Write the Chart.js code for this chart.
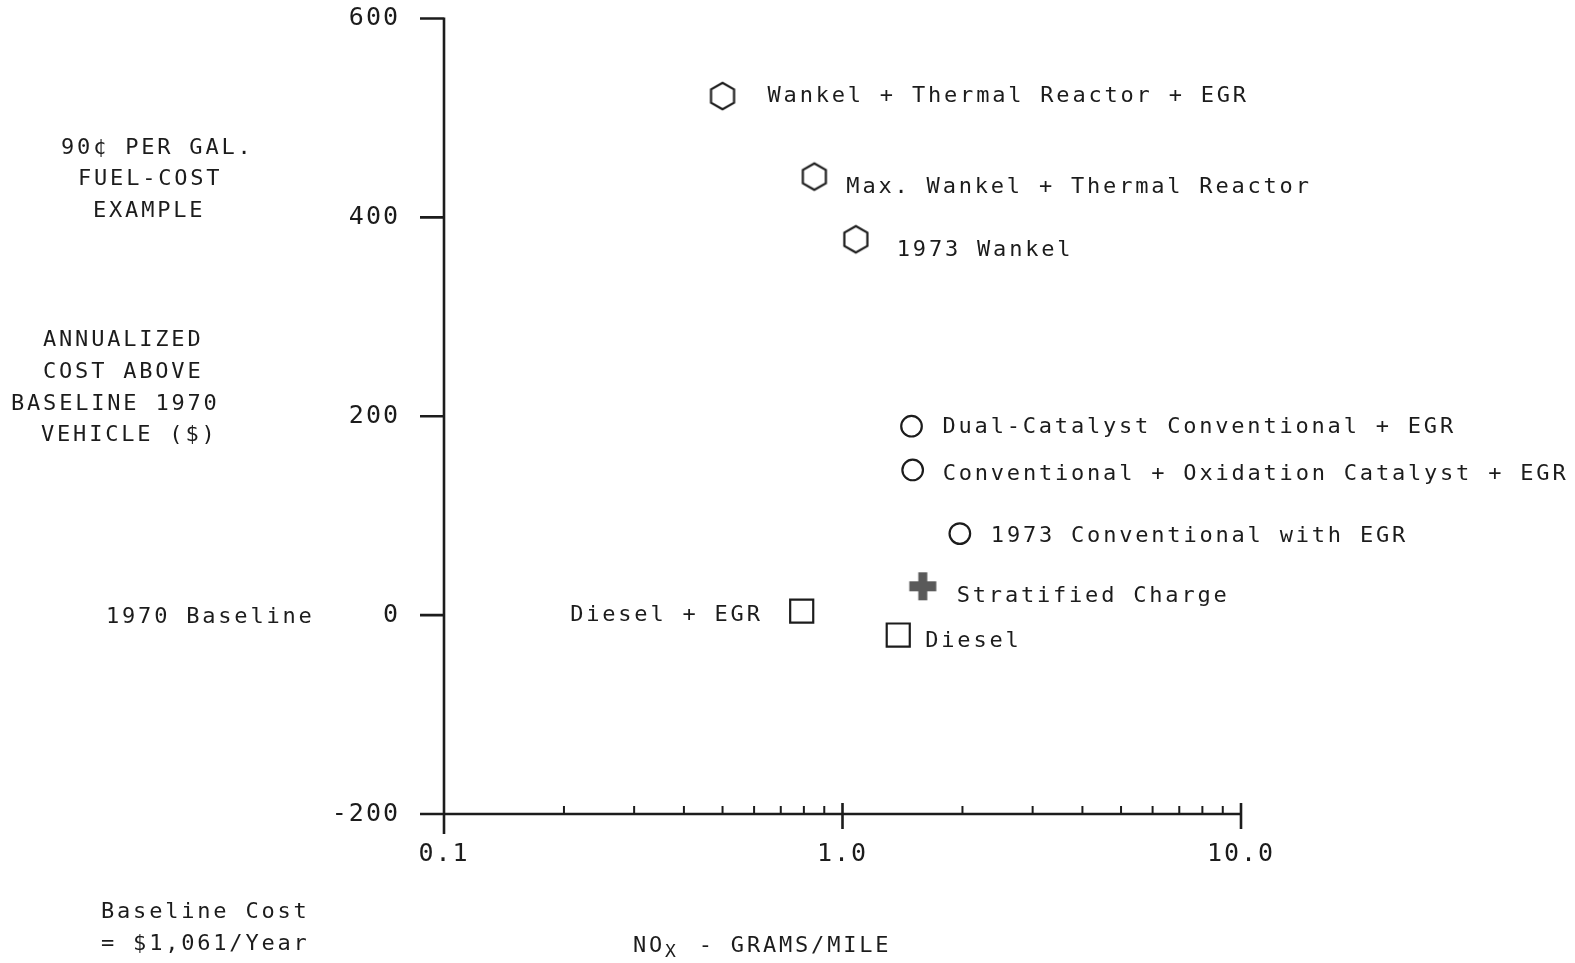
<!DOCTYPE html>
<html>
<head>
<meta charset="utf-8">
<script src="https://cdn.jsdelivr.net/npm/chart.js@4.4.1/dist/chart.umd.min.js"></script>
<style>
  html, body { margin: 0; padding: 0; background: #fff; }
  #wrap { width: 1575px; height: 963px; }
</style>
</head>
<body>
<div id="wrap"><canvas id="nox" width="1575" height="963"></canvas></div>
<script>
// Data (NOx g/mile, annualized cost $ above 1970 baseline)
const wankelNames = ['Wankel + Thermal Reactor + EGR', 'Max. Wankel + Thermal Reactor', '1973 Wankel'];
const wankelNox = [0.50, 0.85, 1.08];
const wankelCost = [522, 441, 378];

const convNames = ['Dual-Catalyst Conventional + EGR', 'Conventional + Oxidation Catalyst + EGR', '1973 Conventional with EGR'];
const convNox = [1.49, 1.50, 1.97];
const convCost = [190, 146, 82];

const stratNames = ['Stratified Charge'];
const stratNox = [1.59];
const stratCost = [29];

const dieselNames = ['Diesel + EGR', 'Diesel'];
const dieselNox = [0.79, 1.38];
const dieselCost = [4, -20];

const yTicks = [600, 400, 200, 0, -200];
const xMajor = [0.1, 1, 10];
const xTickLabels = ['0.1', '1.0', '10.0'];
const xMinor = [0.2, 0.3, 0.4, 0.5, 0.6, 0.7, 0.8, 0.9, 2, 3, 4, 5, 6, 7, 8, 9];

// label offsets from the marker (px) and alignment
const labelOffsets = {
  'Wankel + Thermal Reactor + EGR': [45, 0, 'left'],
  'Max. Wankel + Thermal Reactor': [32, 11, 'left'],
  '1973 Wankel': [41, 11, 'left'],
  'Dual-Catalyst Conventional + EGR': [31, 1, 'left'],
  'Conventional + Oxidation Catalyst + EGR': [30, 4, 'left'],
  '1973 Conventional with EGR': [31, 3, 'left'],
  'Stratified Charge': [34, 10, 'left'],
  'Diesel + EGR': [-39, 4, 'right'],
  'Diesel': [27, 6, 'left']
};

const INK = '#1c1c1c';
const FONT = '"DejaVu Sans Mono", "Liberation Mono", monospace';

function makeHexagon() {
  const c = document.createElement('canvas');
  c.width = 32; c.height = 32;
  const g = c.getContext('2d');
  const R = 13.3;
  g.beginPath();
  for (let i = 0; i < 6; i++) {
    const a = Math.PI / 2 + i * Math.PI / 3;
    const px = 16 + R * Math.cos(a), py = 16 + R * Math.sin(a);
    if (i === 0) g.moveTo(px, py); else g.lineTo(px, py);
  }
  g.closePath();
  g.fillStyle = '#fff';
  g.fill();
  g.lineWidth = 2.2;
  g.strokeStyle = INK;
  g.stroke();
  return c;
}

function makePlus() {
  const c = document.createElement('canvas');
  c.width = 30; c.height = 30;
  const g = c.getContext('2d');
  g.fillStyle = '#5a5a5a';
  g.fillRect(10.5, 1, 9, 28);
  g.fillRect(1.5, 10, 27, 10);
  return c;
}

const toPts = (xs, ys) => xs.map((x, i) => ({ x: x, y: ys[i] }));

const axesPlugin = {
  id: 'axesPlugin',
  beforeDraw(chart) {
    chart.ctx.letterSpacing = '2px';
  },
  beforeDatasetsDraw(chart) {
    const ctx = chart.ctx;
    const xs = chart.scales.x, ys = chart.scales.y;
    const left = xs.getPixelForValue(0.1);
    const right = xs.getPixelForValue(10);
    const base = ys.getPixelForValue(-200);
    ctx.save();
    ctx.strokeStyle = INK;
    ctx.lineWidth = 2.6;
    ctx.lineCap = 'butt';
    ctx.beginPath();
    // y axis
    ctx.moveTo(left, ys.getPixelForValue(600) - 1);
    ctx.lineTo(left, base + 20);
    // y ticks
    yTicks.forEach(v => {
      const y = ys.getPixelForValue(v);
      ctx.moveTo(left - 24, y);
      ctx.lineTo(left, y);
    });
    // x axis
    ctx.moveTo(left - 22, base);
    ctx.lineTo(right, base);
    // major x ticks
    xMajor.forEach(v => {
      const x = xs.getPixelForValue(v);
      ctx.moveTo(x, base - 11);
      ctx.lineTo(x, base + 15);
    });
    ctx.stroke();
    ctx.lineWidth = 2;
    ctx.beginPath();
    xMinor.forEach(v => {
      const x = xs.getPixelForValue(v);
      ctx.moveTo(x, base - 8);
      ctx.lineTo(x, base);
    });
    ctx.stroke();
    ctx.restore();
  },
  afterDraw(chart) {
    const ctx = chart.ctx;
    const ys = chart.scales.y;
    ctx.save();
    ctx.fillStyle = INK;
    ctx.font = '22px ' + FONT;
    ctx.letterSpacing = '2.8px';
    ctx.textBaseline = 'middle';
    // point labels
    chart.data.datasets.forEach((ds, di) => {
      const meta = chart.getDatasetMeta(di);
      ds.names.forEach((name, i) => {
        const el = meta.data[i];
        const off = labelOffsets[name];
        ctx.textAlign = off[2];
        ctx.fillText(name, el.x + off[0], el.y + off[1]);
      });
    });
    // left side notes
    ctx.textAlign = 'left';
    const notes = [
      ['90¢ PER GAL.', 61, 148],
      ['FUEL-COST', 78, 179],
      ['EXAMPLE', 93, 211],
      ['ANNUALIZED', 43, 340],
      ['COST ABOVE', 43, 372],
      ['BASELINE 1970', 11, 404],
      ['VEHICLE ($)', 41, 435],
      ['Baseline Cost', 101, 912],
      ['= $1,061/Year', 101, 944]
    ];
    notes.forEach(n => ctx.fillText(n[0], n[1], n[2]));
    ctx.fillText('1970 Baseline', 106, ys.getPixelForValue(0) + 2);
    // x axis title with subscript
    let x = 633;
    ctx.fillText('NO', x, 946);
    x += ctx.measureText('NO').width;
    ctx.font = '18px ' + FONT;
    ctx.fillText('X', x, 952);
    x += ctx.measureText('X').width + 4;
    ctx.font = '22px ' + FONT;
    ctx.fillText(' - GRAMS/MILE', x, 946);
    ctx.restore();
  }
};

const hex = makeHexagon();
const plus = makePlus();

new Chart(document.getElementById('nox'), {
  type: 'scatter',
  data: {
    datasets: [
      { names: wankelNames, data: toPts(wankelNox, wankelCost), pointStyle: hex, pointRadius: 14 },
      { names: convNames, data: toPts(convNox, convCost), pointStyle: 'circle', pointRadius: 10.3,
        borderWidth: 2.2, borderColor: INK, backgroundColor: '#fff' },
      { names: stratNames, data: toPts(stratNox, stratCost), pointStyle: plus, pointRadius: 14 },
      { names: dieselNames, data: toPts(dieselNox, dieselCost), pointStyle: 'rect', pointRadius: 16.3,
        borderWidth: 2.2, borderColor: INK, backgroundColor: '#fff' }
    ]
  },
  options: {
    responsive: false,
    animation: false,
    layout: { padding: { left: 0, top: 15, right: 334, bottom: 0 } },
    plugins: { legend: { display: false }, tooltip: { enabled: false } },
    scales: {
      x: {
        type: 'logarithmic',
        min: 0.1,
        max: 10,
        afterFit: s => { s.height = 149; s.paddingLeft = 0; s.paddingRight = 0; },
        afterBuildTicks: s => { s.ticks = xMajor.map(v => ({ value: v })); },
        grid: { display: false },
        border: { display: false },
        ticks: {
          autoSkip: false,
          maxRotation: 0,
          padding: 17,
          color: INK,
          font: { family: FONT, size: 25 },
          callback: (v) => {
            const i = xMajor.indexOf(v);
            return i >= 0 ? xTickLabels[i] : '';
          }
        }
      },
      y: {
        type: 'linear',
        min: -200,
        max: 600,
        afterFit: s => { s.width = 444; s.paddingTop = 0; s.paddingBottom = 0; },
        afterBuildTicks: s => { s.ticks = yTicks.map(v => ({ value: v })); },
        grid: { display: false },
        border: { display: false },
        ticks: {
          padding: 36,
          color: INK,
          font: { family: FONT, size: 25 }
        }
      }
    }
  },
  plugins: [axesPlugin]
});
</script>
</body>
</html>
